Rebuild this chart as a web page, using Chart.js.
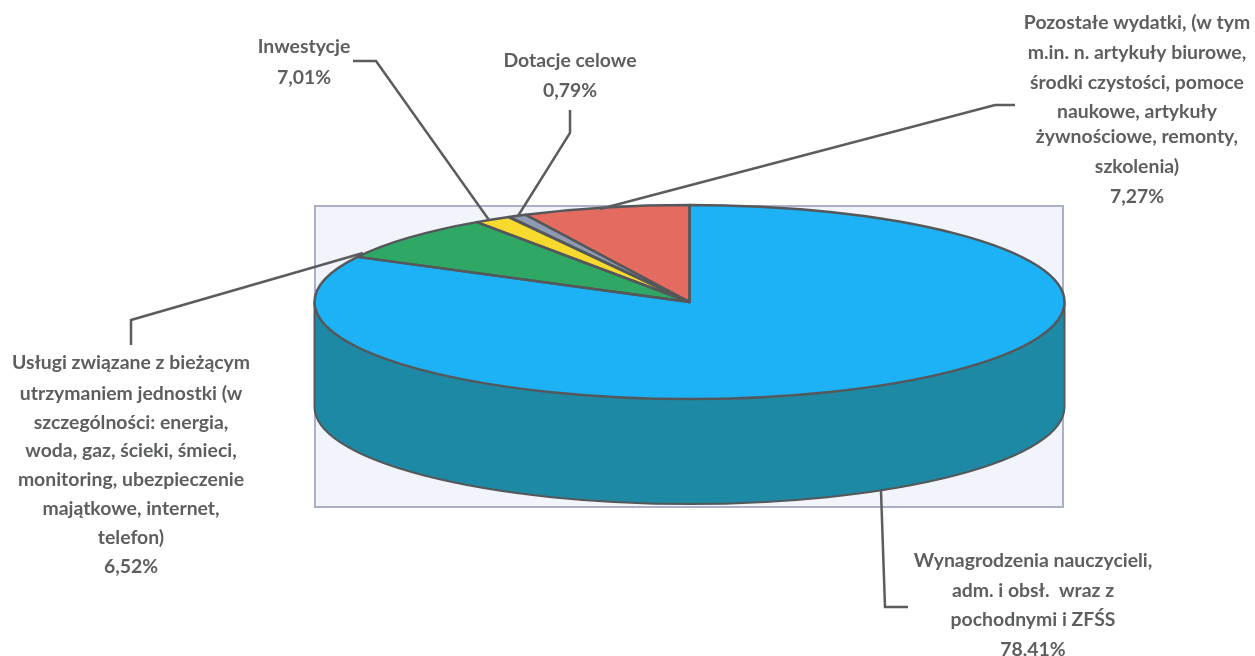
<!DOCTYPE html>
<html>
<head>
<meta charset="utf-8">
<style>
  html, body { margin: 0; padding: 0; background: #ffffff; }
  canvas { display: block; }
</style>
<script src="https://cdn.jsdelivr.net/npm/chart.js@4"></script>
</head>
<body>
<canvas id="pieChart" width="1255" height="656"></canvas>
<script>
const categories = ["Wynagrodzenia", "Usługi", "Inwestycje", "Dotacje celowe", "Pozostałe wydatki"];
// slice shares as they are drawn in the picture (the printed percentages differ, see labelText)
const sliceValues = [82.7, 7.7, 1.6, 0.8, 7.2];
const sliceColors = ["#1db1f6", "#2fa866", "#f8da2e", "#8e99b2", "#e36b5f"];
const wallColors = ["#1d89a4", "#1f7a4a", "#b89f1f", "#687088", "#a84e45"];

const labelText = [
  ["Wynagrodzenia nauczycieli,", "adm. i obsł.  wraz z", "pochodnymi i ZFŚS", "78,41%"],
  ["Usługi związane z bieżącym", "utrzymaniem jednostki (w", "szczególności: energia,", "woda, gaz, ścieki, śmieci,", "monitoring, ubezpieczenie", "majątkowe, internet,", "telefon)", "6,52%"],
  ["Inwestycje", "7,01%"],
  ["Dotacje celowe", "0,79%"],
  ["Pozostałe wydatki, (w tym", "m.in. n. artykuły biurowe,", "środki czystości, pomoce", "naukowe, artykuły", "żywnościowe, remonty,", "szkolenia)", "7,27%"],
];

// layout of the page, not data
const labelSpots = [
  { x: 1033, y: [561, 591, 620, 650] },
  { x: 131, y: [363, 394, 423, 451, 480, 509, 538, 567] },
  { x: 304, y: [47, 78] },
  { x: 570, y: [61, 91] },
  { x: 1137, y: [23, 53, 83, 112, 137, 167, 197] },
];
const leaders = [
  [[881, 491], [885, 607], [908, 607]],
  [[131, 345], [131, 320], [363, 253]],
  [[353, 61], [376, 61], [489, 220]],
  [[570, 110], [570, 133], [518, 216]],
  [[1015, 105], [995, 105], [600, 209]],
];
const frame = { left: 315, top: 206, right: 1063, bottom: 507 };
const radiusX = 375, radiusY = 97, depth = 105;

const pie3d = {
  id: "pie3d",
  beforeDraw(chart) {
    const ctx = chart.ctx;
    ctx.save();
    ctx.fillStyle = "#f2f4fb";
    ctx.strokeStyle = "#a9b0c8";
    ctx.lineWidth = 2;
    ctx.fillRect(frame.left, frame.top, frame.right - frame.left, frame.bottom - frame.top);
    ctx.strokeRect(frame.left, frame.top, frame.right - frame.left, frame.bottom - frame.top);
    ctx.restore();
  },
  beforeDatasetsDraw(chart) {
    const ctx = chart.ctx;
    const arcs = chart.getDatasetMeta(0).data;
    const { x, y, outerRadius } = arcs[0].getProps(["x", "y", "outerRadius"], true);

    // side wall: only the part of each slice on the front half
    arcs.forEach((arc, i) => {
      const p = arc.getProps(["startAngle", "endAngle"], true);
      const turn = Math.PI * 2;
      [0, turn, -turn].forEach((shift) => {
        const from = Math.max(p.startAngle + shift, 0);
        const to = Math.min(p.endAngle + shift, Math.PI);
        if (to <= from) return;
        ctx.beginPath();
        ctx.ellipse(x, y, radiusX, radiusY, 0, from, to);
        ctx.ellipse(x, y + depth, radiusX, radiusY, 0, to, from, true);
        ctx.closePath();
        ctx.fillStyle = wallColors[i];
        ctx.fill();
      });
    });
    ctx.beginPath();
    ctx.ellipse(x, y + depth, radiusX, radiusY, 0, 0, Math.PI);
    ctx.moveTo(x - radiusX, y);
    ctx.lineTo(x - radiusX, y + depth);
    ctx.moveTo(x + radiusX, y);
    ctx.lineTo(x + radiusX, y + depth);
    ctx.strokeStyle = "#55585a";
    ctx.lineWidth = 2;
    ctx.stroke();

    // squash the round pie into the top face
    ctx.save();
    ctx.translate(x, y);
    ctx.scale(radiusX / outerRadius, radiusY / outerRadius);
    ctx.translate(-x, -y);
  },
  afterDatasetsDraw(chart) {
    const ctx = chart.ctx;
    ctx.restore();
    const arcs = chart.getDatasetMeta(0).data;

    // slice outlines, stroked outside the transform so the width stays even
    arcs.forEach((arc) => {
      const p = arc.getProps(["x", "y", "startAngle", "endAngle"], true);
      ctx.beginPath();
      ctx.moveTo(p.x, p.y);
      ctx.ellipse(p.x, p.y, radiusX, radiusY, 0, p.startAngle, p.endAngle);
      ctx.closePath();
      ctx.strokeStyle = "#55585a";
      ctx.lineWidth = 2.5;
      ctx.lineJoin = "round";
      ctx.stroke();
    });

    leaders.forEach((pts) => {
      ctx.beginPath();
      pts.forEach(([px, py], i) => (i ? ctx.lineTo(px, py) : ctx.moveTo(px, py)));
      ctx.strokeStyle = "#5a5c5e";
      ctx.lineWidth = 2.5;
      ctx.lineJoin = "miter";
      ctx.stroke();
    });

    ctx.save();
    ctx.font = "700 19.4px Lato";
    ctx.fillStyle = "#5c5e60";
    ctx.textAlign = "center";
    ctx.textBaseline = "middle";
    labelText.forEach((lines, i) => {
      lines.forEach((line, j) => {
        ctx.fillText(line, labelSpots[i].x, labelSpots[i].y[j]);
      });
    });
    ctx.restore();
  },
};

new Chart(document.getElementById("pieChart"), {
  type: "pie",
  data: {
    labels: categories,
    datasets: [
      {
        data: sliceValues,
        backgroundColor: sliceColors,
        borderWidth: 0,
        clip: false,
      },
    ],
  },
  options: {
    responsive: false,
    animation: false,
    events: [],
    // chart area centred on the pie's apex at 689.5, 302
    layout: { padding: { left: 489.5, right: 365.5, top: 102, bottom: 154 } },
    plugins: {
      legend: { display: false },
      tooltip: { enabled: false },
    },
  },
  plugins: [pie3d],
});
</script>
</body>
</html>
